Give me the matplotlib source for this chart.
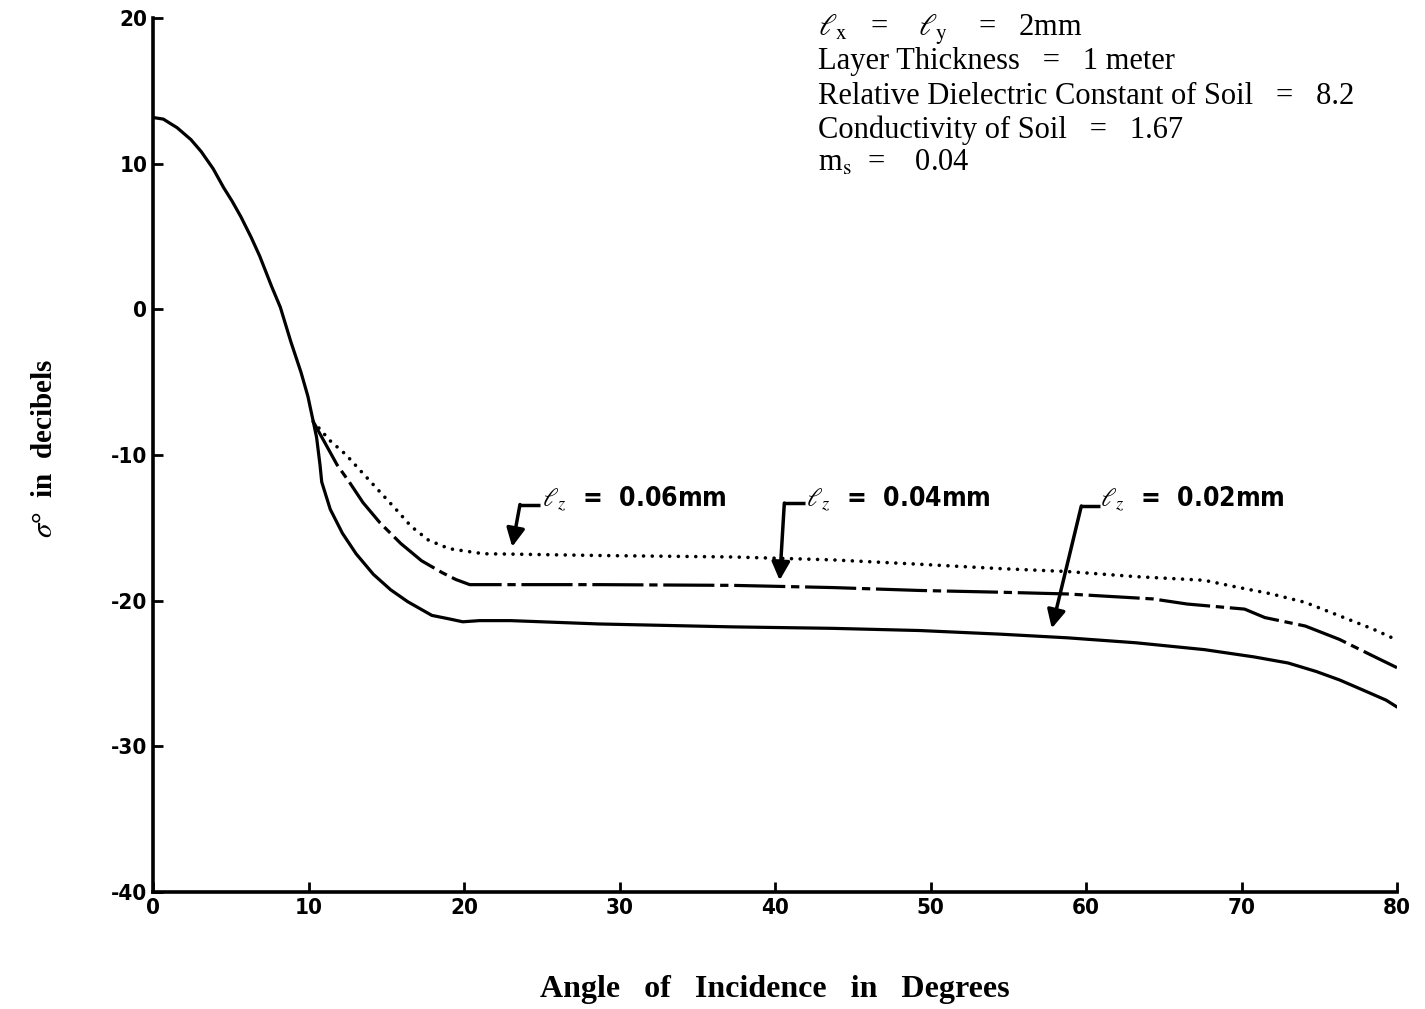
import matplotlib
matplotlib.use("Agg")
import matplotlib.pyplot as plt

# ---- data ----
angle_002 = [0, 0.66, 1.55, 2.44, 3.10, 3.87, 4.54, 5.09, 5.65, 6.31, 6.86, 7.64, 8.19, 8.86, 9.52,
             9.96, 10.29, 10.52, 10.74, 10.85, 11.40, 12.18, 13.06, 14.17, 15.28, 16.38, 17.93,
             19.04, 19.92, 21.0, 23.0, 28.7, 37.3, 43.7, 49.3, 54.5, 58.8, 63.2, 67.6, 70.8,
             73.0, 74.8, 76.3, 77.8, 79.3, 80]
sigma_002 = [13.17, 13.06, 12.47, 11.65, 10.83, 9.65, 8.36, 7.42, 6.36, 4.95, 3.66, 1.54, 0.14, -2.21,
             -4.33, -5.97, -7.62, -8.79, -10.68, -11.85, -13.73, -15.37, -16.78, -18.19, -19.25,
             -20.07, -21.01, -21.25, -21.45, -21.37, -21.37, -21.6, -21.8, -21.9, -22.05, -22.3,
             -22.55, -22.89, -23.36, -23.86, -24.28, -24.86, -25.44, -26.13, -26.83, -27.3]

angle_004 = [10.3, 11.84, 12.62, 13.50, 14.61, 15.94, 17.27, 18.60, 19.48, 20.37, 22.8, 28.7, 37.3,
             43.7, 49.3, 54.5, 58.8, 64.3, 66.5, 70.2, 71.5, 74.1, 76.3, 78.5, 80]
sigma_004 = [-7.7, -10.68, -11.85, -13.26, -14.67, -16.08, -17.26, -18.08, -18.55, -18.9, -18.9, -18.9,
             -18.95, -19.1, -19.3, -19.42, -19.54, -19.88, -20.23, -20.58, -21.16, -21.74, -22.66,
             -23.82, -24.6]

angle_006 = [10.3, 11.40, 12.40, 13.50, 14.61, 15.72, 16.60, 17.71, 19.04, 21.25, 22.8, 28.7, 37.3,
             43.7, 49.3, 54.5, 58.8, 63.2, 67.6, 69.7, 71.9, 74.1, 76.3, 78.5, 80]
sigma_006 = [-7.7, -9.03, -9.97, -11.26, -12.55, -13.84, -14.90, -15.84, -16.43, -16.78, -16.8, -16.9,
             -17.0, -17.2, -17.5, -17.8, -18.0, -18.35, -18.6, -19.07, -19.53, -20.12, -21.04,
             -21.97, -22.7]

x_ticks = [0, 10, 20, 30, 40, 50, 60, 70, 80]
y_ticks = [-40, -30, -20, -10, 0, 10, 20]

labels = [r"$\ell_z$  =  0.06mm", r"$\ell_z$  =  0.04mm", r"$\ell_z$  =  0.02mm"]

params = [
    r"$\ell_\mathrm{x}$   =    $\ell_\mathrm{y}$    =   2mm",
    "Layer Thickness   =   1 meter",
    "Relative Dielectric Constant of Soil   =   8.2",
    "Conductivity of Soil   =   1.67",
    r"m$_\mathrm{s}$  =    0.04",
]

plt.rcParams['mathtext.fontset'] = 'stix'
sans = ['DejaVu Sans']
serif = ['Liberation Serif', 'DejaVu Serif']

W, H = 1425, 1009
fig = plt.figure(figsize=(W / 100, H / 100), dpi=100)
ax = fig.add_axes([153 / W, 1 - 892 / H, (1397 - 153) / W, (892 - 18) / H])

lw = 2.3
ax.plot(angle_002, sigma_002, color='black', lw=lw, solid_capstyle='round', solid_joinstyle='round')
ax.plot(angle_004, sigma_004, color='black', lw=lw, dashes=(16, 1.8, 2.6, 1.8))
ax.plot(angle_006, sigma_006, color='black', lw=2.6, linestyle=(0, (0.01, 2.4)), dash_capstyle='round')

ax.set_xlim(0, 80)
ax.set_ylim(-40, 20)
ax.set_xticks(x_ticks)
ax.set_yticks(y_ticks)
ax.set_xticklabels([str(v) for v in x_ticks], fontfamily=sans, fontweight='bold', fontsize=16,
                   fontstretch='condensed')
ax.set_yticklabels([str(v) for v in y_ticks], fontfamily=sans, fontweight='bold', fontsize=16,
                   fontstretch='condensed')
ax.tick_params(direction='in', length=7, width=2, pad=4)

for s in ['top', 'right']:
    ax.spines[s].set_visible(False)
for s in ['left', 'bottom']:
    ax.spines[s].set_linewidth(2.6)

# annotations: (text left x, text y, bar end x, corner x, bar y, tip x, tip y)
ann = [
    (25.0, -13.0, 24.9, 23.6, -13.4, 23.1, -16.3),
    (42.0, -13.0, 41.9, 40.6, -13.3, 40.3, -18.6),
    (60.9, -13.0, 60.9, 59.7, -13.5, 57.8, -21.9),
]
for lab, (tx, ty, bx, cx, by, px, py) in zip(labels, ann):
    ax.text(tx, ty, lab, fontfamily=sans, fontweight='bold', fontsize=19, va='center', ha='left',
            fontstretch='condensed')
    ax.plot([bx, cx], [by, by], color='black', lw=2.5, solid_capstyle='butt')
    ax.annotate('', xy=(px, py), xytext=(cx, by),
                arrowprops=dict(arrowstyle='-|>,head_width=0.55,head_length=1.1',
                                lw=2.5, color='black', shrinkA=0, shrinkB=0))

# parameter block top right
ys = [30, 62, 97, 130, 163]
for t, y in zip(params, ys):
    fig.text(818 / W, 1 - y / H, t, fontfamily=serif, fontsize=22, va='center', ha='left')

fig.text(45 / W, 1 - 448 / H, r"$\sigma$°  in  decibels", fontfamily=serif, fontweight='bold',
         fontsize=21, rotation=90, va='center', ha='center')
fig.text(775 / W, 1 - 990 / H, "Angle   of   Incidence   in   Degrees", fontfamily=serif,
         fontweight='bold', fontsize=23, va='center', ha='center')

fig.savefig('out.png', dpi=100, facecolor='white')
